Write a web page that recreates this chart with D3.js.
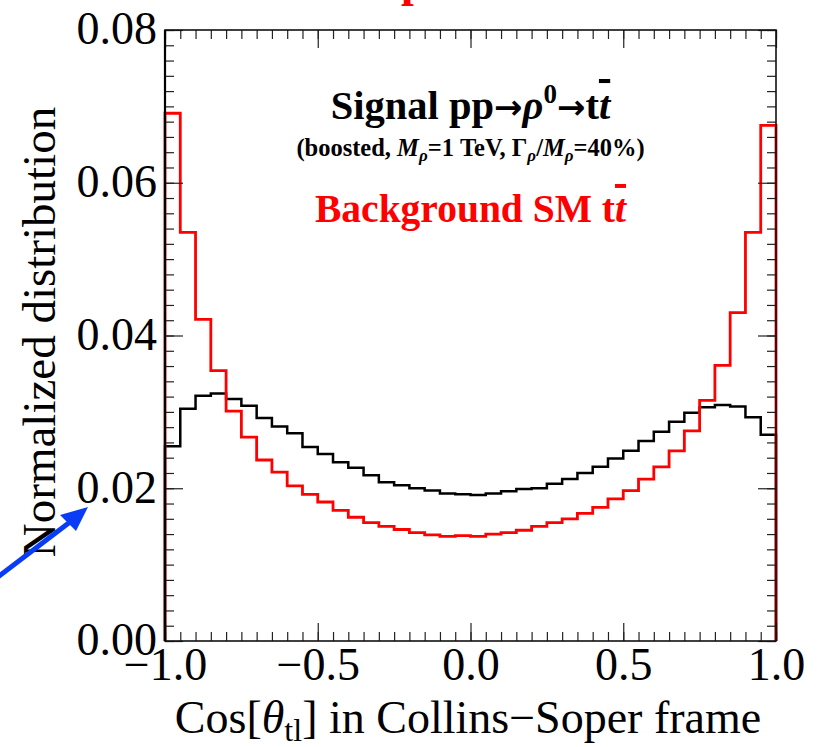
<html>
<head>
<meta charset="utf-8">
<style>
  body { margin: 0; background: #fff; }
  text { font-family: "Liberation Serif", "Times New Roman", serif; }
</style>
</head>
<body>
<script src="https://cdn.jsdelivr.net/npm/d3@7/dist/d3.min.js"></script>
<script>
// histogram values, 40 bins of width 0.05 from -1 to 1
var signal = [0.0255, 0.0304, 0.0321, 0.0324, 0.0317, 0.0308, 0.0292, 0.0281, 0.0272, 0.0254,
              0.0245, 0.0234, 0.0227, 0.0217, 0.0208, 0.0204, 0.0200, 0.0197, 0.0193, 0.0192,
              0.0191, 0.0193, 0.0196, 0.0199, 0.0200, 0.0206, 0.0212, 0.0220, 0.0228, 0.0239,
              0.0249, 0.0262, 0.0274, 0.0287, 0.0299, 0.0306, 0.0309, 0.0307, 0.0293, 0.0270];
var background = [0.0691, 0.0535, 0.0421, 0.0354, 0.0301, 0.0267, 0.0237, 0.0221, 0.0203, 0.0192,
                  0.0182, 0.0171, 0.0162, 0.0155, 0.0150, 0.0146, 0.0142, 0.0139, 0.0137, 0.0138,
                  0.0137, 0.0140, 0.0142, 0.0145, 0.0150, 0.0155, 0.0160, 0.0167, 0.0175, 0.0186,
                  0.0197, 0.0212, 0.0228, 0.0249, 0.0275, 0.0315, 0.0361, 0.0430, 0.0535, 0.0675];
var xTicks = [-1.0, -0.5, 0.0, 0.5, 1.0];
var yTicks = [0.00, 0.02, 0.04, 0.06, 0.08];
var binEdges = d3.range(41).map(function(i){ return -1 + i / 20; });

var width = 817, height = 747;
var margin = {left: 165, right: 41, top: 30, bottom: 106};
var w = width - margin.left - margin.right;
var h = height - margin.top - margin.bottom;
var serif = '"Liberation Serif", "Times New Roman", Times, serif';
var arrowFont = '"DejaVu Sans", sans-serif';

var svg = d3.select('body').append('svg')
    .attr('width', width)
    .attr('height', height);

var xScale = d3.scaleLinear().domain([-1, 1]).range([0, w]);
var yScale = d3.scaleLinear().domain([0, 0.08]).range([h, 0]);

var g = svg.append('g')
    .attr('transform', 'translate(' + margin.left + ',' + margin.top + ')');

// clipped red title remnant at the very top
svg.append('text')
    .attr('x', 401).attr('y', -4)
    .attr('fill', '#ff0000')
    .style('font-family', serif)
    .style('font-weight', 700)
    .attr('font-size', 46)
    .text('p');

// histograms
function stepPoints(vals) {
    var pts = [[binEdges[0], 0]];
    vals.forEach(function(v, i){ pts.push([binEdges[i], v]); });
    pts.push([binEdges[40], vals[39]]);
    pts.push([binEdges[40], 0]);
    return pts;
}
var line = d3.line()
    .x(function(d){ return xScale(d[0]); })
    .y(function(d){ return yScale(d[1]); })
    .curve(d3.curveStepAfter);

g.append('path')
    .attr('d', line(stepPoints(signal)))
    .attr('fill', 'none')
    .attr('stroke', '#000')
    .attr('stroke-width', 2.5);
g.append('path')
    .attr('d', line(stepPoints(background)))
    .attr('fill', 'none')
    .attr('stroke', '#ff0000')
    .attr('stroke-width', 2.8);

// axes with inward ticks
function styleAxis(sel) {
    sel.select('.domain').remove();
    sel.selectAll('line').attr('stroke', '#222').attr('stroke-width', 1.2);
}
var fmtY = d3.format('.2f'), fmtX = d3.format('.1f');

g.append('g').call(d3.axisLeft(yScale).tickValues(yScale.ticks(40)).tickSize(-9).tickFormat('')).call(styleAxis);
g.append('g').call(d3.axisLeft(yScale).tickValues(yTicks).tickSize(-18).tickPadding(8).tickFormat(fmtY)).call(styleAxis)
    .selectAll('text').attr('font-size', 46).attr('fill', '#000').attr('dy', '0.3em')
    .style('font-family', serif);

g.append('g').attr('transform', 'translate(' + w + ',0)')
    .call(d3.axisRight(yScale).tickValues(yScale.ticks(40)).tickSize(-9).tickFormat('')).call(styleAxis);
g.append('g').attr('transform', 'translate(' + w + ',0)')
    .call(d3.axisRight(yScale).tickValues(yTicks).tickSize(-18).tickFormat('')).call(styleAxis);

g.append('g').attr('transform', 'translate(0,' + h + ')')
    .call(d3.axisBottom(xScale).tickValues(xScale.ticks(40)).tickSize(-9).tickFormat('')).call(styleAxis);
g.append('g').attr('transform', 'translate(0,' + h + ')')
    .call(d3.axisBottom(xScale).tickValues(xTicks).tickSize(-18).tickPadding(10).tickFormat(fmtX)).call(styleAxis)
    .selectAll('text').attr('font-size', 46).attr('fill', '#000').attr('dy', '0.62em')
    .style('font-family', serif);

g.append('g')
    .call(d3.axisTop(xScale).tickValues(xScale.ticks(40)).tickSize(-9).tickFormat('')).call(styleAxis);
g.append('g')
    .call(d3.axisTop(xScale).tickValues(xTicks).tickSize(-18).tickFormat('')).call(styleAxis);

// frame
g.append('rect')
    .attr('width', w).attr('height', h)
    .attr('fill', 'none')
    .attr('stroke', '#111')
    .attr('stroke-width', 1.6);
g.append('line')
    .attr('x1', 0).attr('x2', 0).attr('y1', 0).attr('y2', h)
    .attr('stroke', '#000').attr('stroke-width', 2.2);

// in-plot labels
var t1 = g.append('text')
    .attr('x', xScale(0)).attr('y', 89)
    .attr('text-anchor', 'middle')
    .style('font-family', serif)
    .style('font-weight', 700)
    .attr('font-size', 40.5);
t1.append('tspan').text('Signal pp');
t1.append('tspan').style('font-family', arrowFont).attr('font-size', 34).text('\u2192');
t1.append('tspan').attr('font-style', 'italic').text('\u03c1');
t1.append('tspan').attr('font-size', 27).attr('dy', -16).text('0');
t1.append('tspan').attr('dy', 16).style('font-family', arrowFont).attr('font-size', 34).text('\u2192');
t1.append('tspan').text('t');
t1.append('tspan').attr('font-style', 'italic').attr('text-decoration', 'overline').text('t');

var t2 = g.append('text')
    .attr('x', xScale(0)).attr('y', 126)
    .attr('text-anchor', 'middle')
    .style('font-family', serif)
    .style('font-weight', 700)
    .attr('font-size', 24.5);
t2.append('tspan').text('(boosted, ');
t2.append('tspan').attr('font-style', 'italic').text('M');
t2.append('tspan').attr('font-style', 'italic').attr('font-size', 17).attr('dy', 5).text('\u03c1');
t2.append('tspan').attr('dy', -5).text('=1 TeV, \u0393');
t2.append('tspan').attr('font-style', 'italic').attr('font-size', 17).attr('dy', 5).text('\u03c1');
t2.append('tspan').attr('dy', -5).text('/');
t2.append('tspan').attr('font-style', 'italic').text('M');
t2.append('tspan').attr('font-style', 'italic').attr('font-size', 17).attr('dy', 5).text('\u03c1');
t2.append('tspan').attr('dy', -5).text('=40%)');

var t3 = g.append('text')
    .attr('x', xScale(0)).attr('y', 192)
    .attr('text-anchor', 'middle')
    .style('font-family', serif)
    .style('font-weight', 700)
    .attr('font-size', 39.5)
    .attr('fill', '#ff0000');
t3.append('tspan').text('Background SM t');
t3.append('tspan').attr('font-style', 'italic').attr('text-decoration', 'overline').text('t');

// axis titles
var xt = svg.append('text')
    .attr('x', 468).attr('y', 733)
    .attr('text-anchor', 'middle')
    .style('font-family', serif)
    .attr('font-size', 46);
xt.append('tspan').text('Cos[');
xt.append('tspan').attr('font-style', 'italic').text('\u03b8');
xt.append('tspan').attr('font-size', 32).attr('dy', 8).text('tl');
xt.append('tspan').attr('dy', -8).text('] in Collins\u2212Soper frame');

svg.append('text')
    .attr('transform', 'translate(55,332) rotate(-90)')
    .attr('text-anchor', 'middle')
    .style('font-family', serif)
    .attr('font-size', 47)
    .text('Normalized distribution');

// blue arrow pointing at the 0.02 label
var blue = '#0b3cf5';
svg.append('line')
    .attr('x1', -6).attr('y1', 580)
    .attr('x2', 70).attr('y2', 522)
    .attr('stroke', blue)
    .attr('stroke-width', 5);
svg.append('path')
    .attr('d', 'M88,507L60,515L76,531Z')
    .attr('fill', blue);
</script>
</body>
</html>
